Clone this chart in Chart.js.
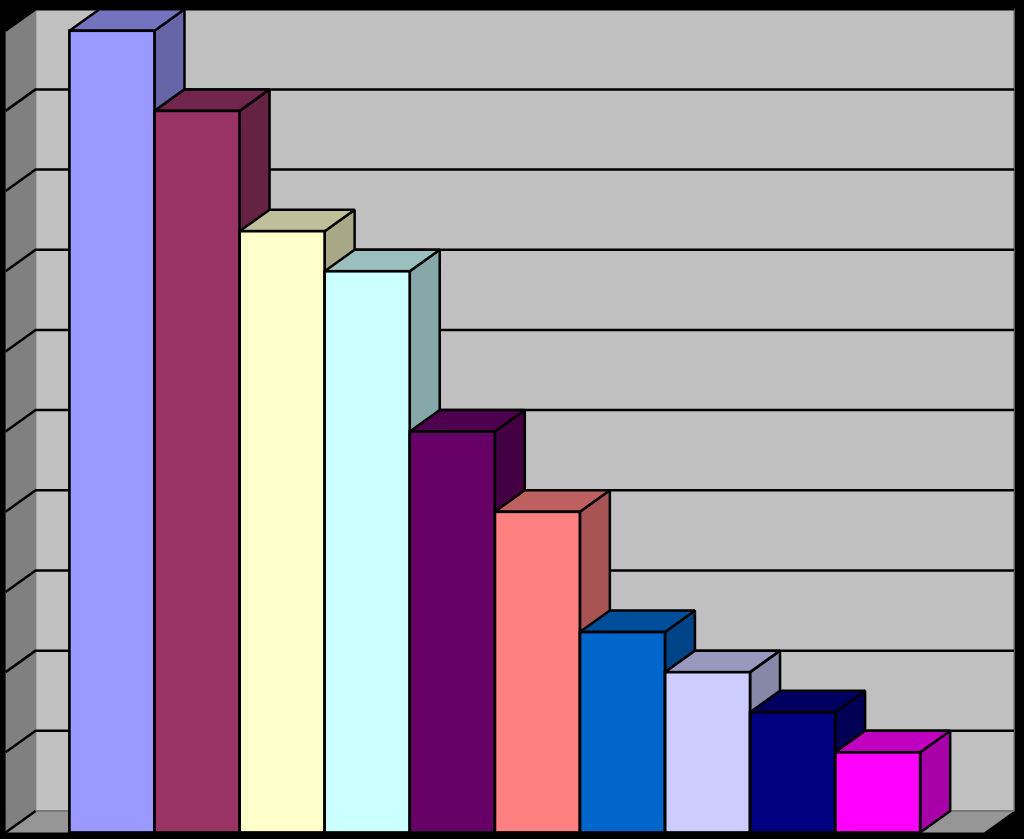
<!DOCTYPE html>
<html>
<head>
<meta charset="utf-8">
<title>3D bar chart</title>
<script src="https://cdn.jsdelivr.net/npm/chart.js@4/dist/chart.umd.min.js"></script>
<style>
  html, body { margin: 0; padding: 0; background: #000; }
  canvas { display: block; }
</style>
</head>
<body>
<canvas id="chart" width="1024" height="839"></canvas>
<script>
const categories = [""]
const seriesNames = ["S1", "S2", "S3", "S4", "S5", "S6", "S7", "S8", "S9", "S10"]
const seriesValues = [10, 9, 7.5, 7, 5, 4, 2.5, 2, 1.5, 1]
const seriesColors = ["#9999FF", "#993366", "#FFFFCC", "#CCFFFF", "#660066", "#FF8080", "#0066CC", "#CCCCFF", "#000080", "#FF00FF"]

const DEPTH_X = 30
const DEPTH_Y = 21.5
const TOP_SHADE = 0.75
const SIDE_SHADE = 0.66

// darken a #rrggbb colour by a factor
function shade(hex, f) {
  const n = parseInt(hex.slice(1), 16)
  const r = Math.round(((n >> 16) & 255) * f)
  const g = Math.round(((n >> 8) & 255) * f)
  const b = Math.round((n & 255) * f)
  return `rgb(${r}, ${g}, ${b})`
}

function poly(ctx, pts, fill, stroke, width) {
  ctx.beginPath()
  pts.forEach((p, i) => (i === 0 ? ctx.moveTo(p[0], p[1]) : ctx.lineTo(p[0], p[1])))
  ctx.closePath()
  if (fill) {
    ctx.fillStyle = fill
    ctx.fill()
  }
  if (stroke) {
    ctx.strokeStyle = stroke
    ctx.lineWidth = width
    ctx.lineJoin = "bevel"
    ctx.stroke()
  }
}

const box3d = {
  id: "box3d",
  // walls, floor and gridlines, then the side and top of each bar
  beforeDatasetsDraw(chart) {
    const { ctx, chartArea: a, scales } = chart
    const dx = DEPTH_X
    const dy = DEPTH_Y
    ctx.save()
    poly(ctx, [[a.left + dx, a.top - dy], [a.right + dx, a.top - dy], [a.right + dx, a.bottom - dy], [a.left + dx, a.bottom - dy]], "#C0C0C0", "#808080", 1.5)
    poly(ctx, [[a.left, a.top], [a.left + dx, a.top - dy], [a.left + dx, a.bottom - dy], [a.left, a.bottom]], "#808080")
    poly(ctx, [[a.left, a.bottom], [a.left + dx, a.bottom - dy], [a.right + dx, a.bottom - dy], [a.right, a.bottom]], "#969696")

    ctx.strokeStyle = "#000"
    ctx.lineWidth = 2.5
    scales.y.ticks.forEach((t) => {
      const y = scales.y.getPixelForValue(t.value)
      ctx.beginPath()
      ctx.moveTo(a.left, y)
      ctx.lineTo(a.left + dx, y - dy)
      if (t.value > 0) ctx.lineTo(a.right + dx, y - dy)
      ctx.stroke()
    })

    // thin dark seam where the floor meets the back wall
    ctx.strokeStyle = "#5a5a5a"
    ctx.lineWidth = 1
    ctx.beginPath()
    ctx.moveTo(a.left + dx, a.bottom - dy)
    ctx.lineTo(a.right + dx, a.bottom - dy)
    ctx.stroke()

    chart.data.datasets.forEach((ds, i) => {
      const bar = chart.getDatasetMeta(i).data[0]
      const half = bar.width / 2
      const l = bar.x - half
      const r = bar.x + half
      const t = bar.y
      const b = bar.base
      poly(ctx, [[r, t], [r + dx, t - dy], [r + dx, b - dy], [r, b]], shade(ds.backgroundColor, SIDE_SHADE), "#000", 2.5)
      poly(ctx, [[l, t], [l + dx, t - dy], [r + dx, t - dy], [r, t]], shade(ds.backgroundColor, TOP_SHADE), "#000", 2.5)
    })
    ctx.restore()
  },
  // outline of the front faces
  afterDatasetsDraw(chart) {
    const { ctx } = chart
    ctx.save()
    chart.data.datasets.forEach((ds, i) => {
      const bar = chart.getDatasetMeta(i).data[0]
      const half = bar.width / 2
      ctx.strokeStyle = "#000"
      ctx.lineWidth = 2.7
      ctx.strokeRect(bar.x - half, bar.y, bar.width, bar.base - bar.y)
    })
    ctx.restore()
  },
}

new Chart(document.getElementById("chart").getContext("2d"), {
  type: "bar",
  data: {
    labels: categories,
    datasets: seriesNames.map((name, i) => ({
      label: name,
      data: [seriesValues[i]],
      backgroundColor: seriesColors[i],
      borderWidth: 0,
      barPercentage: 1,
      categoryPercentage: 10 / 11.5,
    })),
  },
  options: {
    responsive: false,
    animation: false,
    layout: { padding: { left: 5.6, right: 40, top: 30.7, bottom: 6.5 } },
    plugins: {
      legend: { display: false },
      tooltip: { enabled: false },
    },
    scales: {
      x: { display: false },
      y: { display: false, min: 0, max: 10, ticks: { stepSize: 1 } },
    },
  },
  plugins: [box3d],
})
</script>
</body>
</html>
